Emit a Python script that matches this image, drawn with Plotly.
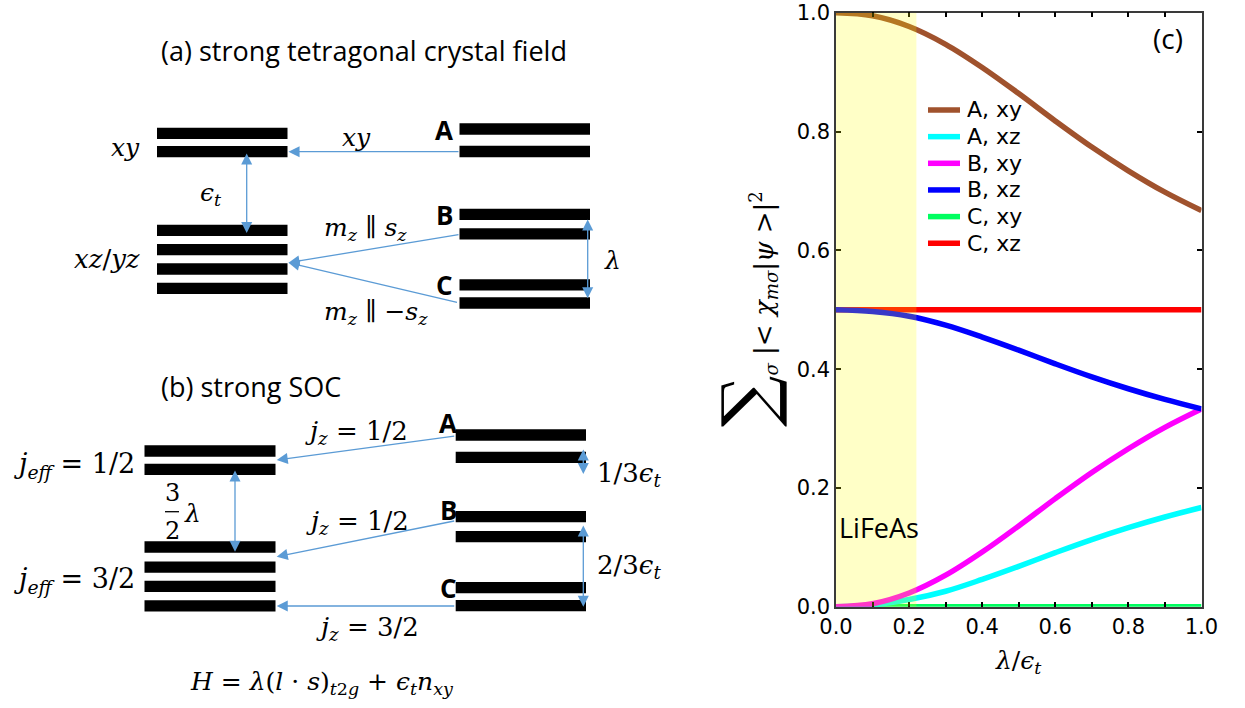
import plotly.graph_objects as go

# ---------------- data ----------------
lam = [0.0, 0.1, 0.2, 0.3, 0.4, 0.5, 0.6, 0.7, 0.8, 0.9, 1.0]
a_xy = [1.000, 0.995, 0.977, 0.947, 0.908, 0.864, 0.818, 0.774, 0.734, 0.698, 0.667]
a_xz = [0.000, 0.003, 0.012, 0.026, 0.046, 0.068, 0.091, 0.113, 0.133, 0.151, 0.167]
b_xy = [0.000, 0.005, 0.023, 0.053, 0.092, 0.136, 0.182, 0.226, 0.266, 0.302, 0.333]
b_xz = [0.500, 0.497, 0.489, 0.474, 0.454, 0.432, 0.409, 0.387, 0.367, 0.349, 0.333]
c_xy = [0.000, 0.000, 0.000, 0.000, 0.000, 0.000, 0.000, 0.000, 0.000, 0.000, 0.000]
c_xz = [0.500, 0.500, 0.500, 0.500, 0.500, 0.500, 0.500, 0.500, 0.500, 0.500, 0.500]

series_names = ["A, xy", "A, xz", "B, xy", "B, xz", "C, xy", "C, xz"]
x_tickvals = [0.0, 0.2, 0.4, 0.6, 0.8, 1.0]
x_ticktext = ["0.0", "0.2", "0.4", "0.6", "0.8", "1.0"]
y_tickvals = [0.0, 0.2, 0.4, 0.6, 0.8, 1.0]
y_ticktext = ["0.0", "0.2", "0.4", "0.6", "0.8", "1.0"]
lifeas_range = [0.0, 0.22]

# ---------------- styles ----------------
W, H = 1245, 708
SANS = "Open Sans, Noto Sans, sans-serif"
SANS2 = "DejaVu Sans, sans-serif"
MATH = "DejaVu Serif, serif"
ARROW = "#5B9BD5"
colors = {"A, xy": "#A0522D", "A, xz": "#00FFFF", "B, xy": "#FF00FF",
          "B, xz": "#0000FF", "C, xy": "#00FF60", "C, xz": "#FF0000"}
values = {"A, xy": a_xy, "A, xz": a_xz, "B, xy": b_xy,
          "B, xz": b_xz, "C, xy": c_xy, "C, xz": c_xz}
draw_order = ["C, xy", "C, xz", "A, xy", "A, xz", "B, xy", "B, xz"]
LINE_W = 5.5

fig = go.Figure()
for name in draw_order:
    fig.add_trace(go.Scatter(
        x=lam, y=values[name], name=name, mode="lines",
        line=dict(color=colors[name], width=LINE_W, shape="spline"),
        showlegend=False, xaxis="x", yaxis="y"))
# carrier trace for the schematic (pixel-like) axes
fig.add_trace(go.Scatter(x=[], y=[], xaxis="x2", yaxis="y2",
                         showlegend=False, hoverinfo="skip"))

X0, X1 = 836, 1201.5
YT, YB = 12.7, 606.7
TICKFONT = dict(family=SANS2, size=21, color="black")
fig.update_layout(
    width=W, height=H, margin=dict(l=0, r=0, t=0, b=0),
    paper_bgcolor="white", plot_bgcolor="rgba(0,0,0,0)",
    showlegend=False,
    xaxis=dict(domain=[X0 / W, X1 / W], anchor="y", range=[0, 1.0001],
               tickvals=x_tickvals, ticktext=x_ticktext, ticks="inside", ticklen=5,
               tickwidth=1.5, tickcolor="black",
               minor=dict(dtick=0.1, tick0=0, ticks="inside", ticklen=5, tickwidth=1.5,
                          tickcolor="black", showgrid=False),
               showline=True, linecolor="#3a3a3a",
               linewidth=1.5, mirror="ticks", showgrid=False, zeroline=False,
               tickfont=TICKFONT, automargin=False),
    yaxis=dict(domain=[1 - YB / H, 1 - YT / H], anchor="x", range=[0, 1.0002],
               tickvals=y_tickvals, ticktext=y_ticktext, ticks="inside", ticklen=5,
               tickwidth=1.5, tickcolor="black", showline=True, linecolor="#3a3a3a",
               linewidth=1.5, mirror="ticks", showgrid=False, zeroline=False,
               tickfont=TICKFONT, automargin=False, ticklabeloverflow="allow"),
    xaxis2=dict(domain=[0, 1], anchor="y2", range=[0, W], visible=False, fixedrange=True),
    yaxis2=dict(domain=[0, 1], anchor="x2", range=[H, 0], visible=False, fixedrange=True),
)

shapes = []
annotations = []

# LiFeAs band
shapes.append(dict(type="rect", xref="x", yref="y", x0=lifeas_range[0], x1=lifeas_range[1],
                   y0=0, y1=1, fillcolor="rgba(255,255,0,0.22)", line=dict(width=0),
                   layer="above"))
annotations.append(dict(xref="x", yref="y", x=0.004, y=0.133, text="LiFeAs", showarrow=False,
                        xanchor="left", yanchor="middle",
                        font=dict(family=SANS, size=27, color="black")))
annotations.append(dict(xref="x", yref="y", x=0.908, y=0.957, text="(c)", showarrow=False,
                        xanchor="center", yanchor="middle",
                        font=dict(family=SANS, size=28, color="black")))

# legend (inside the axes, compact spacing as in the reference)
LEG_TOP, LEG_PITCH = 110, 26.65
legend_rows = [LEG_TOP + i * LEG_PITCH for i in range(len(series_names))]
for name, yc in zip(series_names, legend_rows):
    shapes.append(dict(type="line", xref="paper", yref="paper", x0=928 / W, x1=960 / W,
                       y0=1 - yc / H, y1=1 - yc / H,
                       line=dict(color=colors[name], width=LINE_W)))
    annotations.append(dict(xref="paper", yref="paper", x=965 / W, y=1 - yc / H, text=name,
                            showarrow=False, xanchor="left", yanchor="middle",
                            font=dict(family=SANS2, size=22, color="black")))

# axis titles
annotations.append(dict(xref="paper", yref="paper", x=748 / W, y=1 - 309 / H,
                        text="<span style='font-size:72px'>∑</span><sub><i>σ</i></sub> |&lt; <i>χ</i><sub><i>mσ</i></sub>|<i>ψ</i> &gt;|<sup>2</sup>",
                        textangle=-90, showarrow=False, xanchor="center", yanchor="middle",
                        font=dict(family=MATH, size=26, color="black")))
annotations.append(dict(xref="paper", yref="paper", x=1018 / W, y=1 - 662 / H,
                        text="<i>λ</i>/<i>ϵ</i><sub><i>t</i></sub>", showarrow=False,
                        xanchor="center", yanchor="middle",
                        font=dict(family=MATH, size=25, color="black")))

# ---------------- schematic (a) and (b) ----------------
BAR_H = 11.3


def bars(x0, x1, centers):
    for c in centers:
        shapes.append(dict(type="rect", xref="x2", yref="y2", x0=x0, x1=x1,
                           y0=c - BAR_H / 2, y1=c + BAR_H / 2,
                           fillcolor="black", line=dict(width=0)))


def arrow(tail, head, double=False):
    annotations.append(dict(xref="x2", yref="y2", axref="x2", ayref="y2",
                            x=head[0], y=head[1], ax=tail[0], ay=tail[1], text="",
                            showarrow=True, arrowhead=2, arrowsize=1.7, arrowwidth=1.3,
                            arrowcolor=ARROW,
                            arrowside="end+start" if double else "end"))


def label(x, y, text, font, size, anchor="center", bold=False):
    annotations.append(dict(xref="x2", yref="y2", x=x, y=y, text=("<b>%s</b>" % text) if bold else text,
                            showarrow=False, xanchor=anchor, yanchor="middle",
                            font=dict(family=font, size=size, color="black")))


MS = 25  # math text size
# (a) strong tetragonal crystal field
label(364, 50, "(a) strong tetragonal crystal field", SANS, 27)
bars(157, 287.5, [133.3, 151.7, 230.3, 249.7, 269.0, 288.3])
bars(459.5, 590, [129.0, 151.5, 214.3, 233.8, 284.8, 303.0])
arrow((460, 151.7), (288.5, 151.7))
arrow((460, 234.3), (288.5, 262.7))
arrow((458.5, 302.7), (288.5, 262.7))
arrow((246.7, 152), (246.7, 233), double=True)
arrow((587.7, 218), (587.7, 298.3), double=True)
label(142, 147, "<i>xy</i>", MATH, MS, anchor="right")
label(142, 259, "<i>xz</i>/<i>yz</i>", MATH, MS + 1, anchor="right")
label(211, 194, "<i>ϵ</i><sub><i>t</i></sub>", MATH, MS)
label(444, 130, "A", SANS, 26, bold=True)
label(444, 215, "B", SANS, 26, bold=True)
label(444, 285, "C", SANS, 26, bold=True)
label(356, 137, "<i>xy</i>", MATH, MS)
label(365.5, 229, "<i>m</i><sub><i>z</i></sub> ∥ <i>s</i><sub><i>z</i></sub>", MATH, MS)
label(376, 313, "<i>m</i><sub><i>z</i></sub> ∥ −<i>s</i><sub><i>z</i></sub>", MATH, MS)
label(612, 260, "<i>λ</i>", MATH, MS)

# (b) strong SOC
label(251, 386, "(b) strong SOC", SANS, 27)
bars(144.5, 275.5, [451.0, 469.3, 547.0, 567.2, 586.3, 605.8])
bars(455.7, 586, [435.0, 457.3, 516.7, 536.7, 587.7, 605.7])
arrow((455.7, 436), (276.7, 460))
arrow((455.7, 520.7), (276.7, 556.7))
arrow((455.7, 606), (276.7, 606))
arrow((235, 469), (235, 551.7), double=True)
arrow((583.3, 448), (583.3, 474), double=True)
arrow((583.3, 524), (583.3, 606.7), double=True)
label(137, 465, "<i>j</i><sub><i>eff</i></sub> = 1/2", MATH, 27, anchor="right")
label(137, 580, "<i>j</i><sub><i>eff</i></sub> = 3/2", MATH, 27, anchor="right")
label(172, 493, "3", MATH, 24)
label(172, 531, "2", MATH, 24)
shapes.append(dict(type="line", xref="x2", yref="y2", x0=165, x1=179, y0=511.7, y1=511.7,
                   line=dict(color="black", width=1.3)))
label(192, 513, "<i>λ</i>", MATH, MS)
label(448, 423, "A", SANS, 26, bold=True)
label(448, 510, "B", SANS, 26, bold=True)
label(448, 588, "C", SANS, 26, bold=True)
label(356, 432, "<i>j</i><sub><i>z</i></sub> = 1/2", MATH, MS + 1)
label(357, 522, "<i>j</i><sub><i>z</i></sub> = 1/2", MATH, MS + 1)
label(367.5, 628, "<i>j</i><sub><i>z</i></sub> = 3/2", MATH, MS + 1)
label(595, 474, "1/3<i>ϵ</i><sub><i>t</i></sub>", MATH, 26, anchor="left")
label(595, 566, "2/3<i>ϵ</i><sub><i>t</i></sub>", MATH, 26, anchor="left")
label(322, 683, "<i>H</i> = <i>λ</i>(<i>l</i> · <i>s</i>)<sub><i>t</i>2<i>g</i></sub> + <i>ϵ</i><sub><i>t</i></sub><i>n</i><sub><i>xy</i></sub>", MATH, MS)

fig.update_layout(shapes=shapes, annotations=annotations)
fig.write_html("out.html")
